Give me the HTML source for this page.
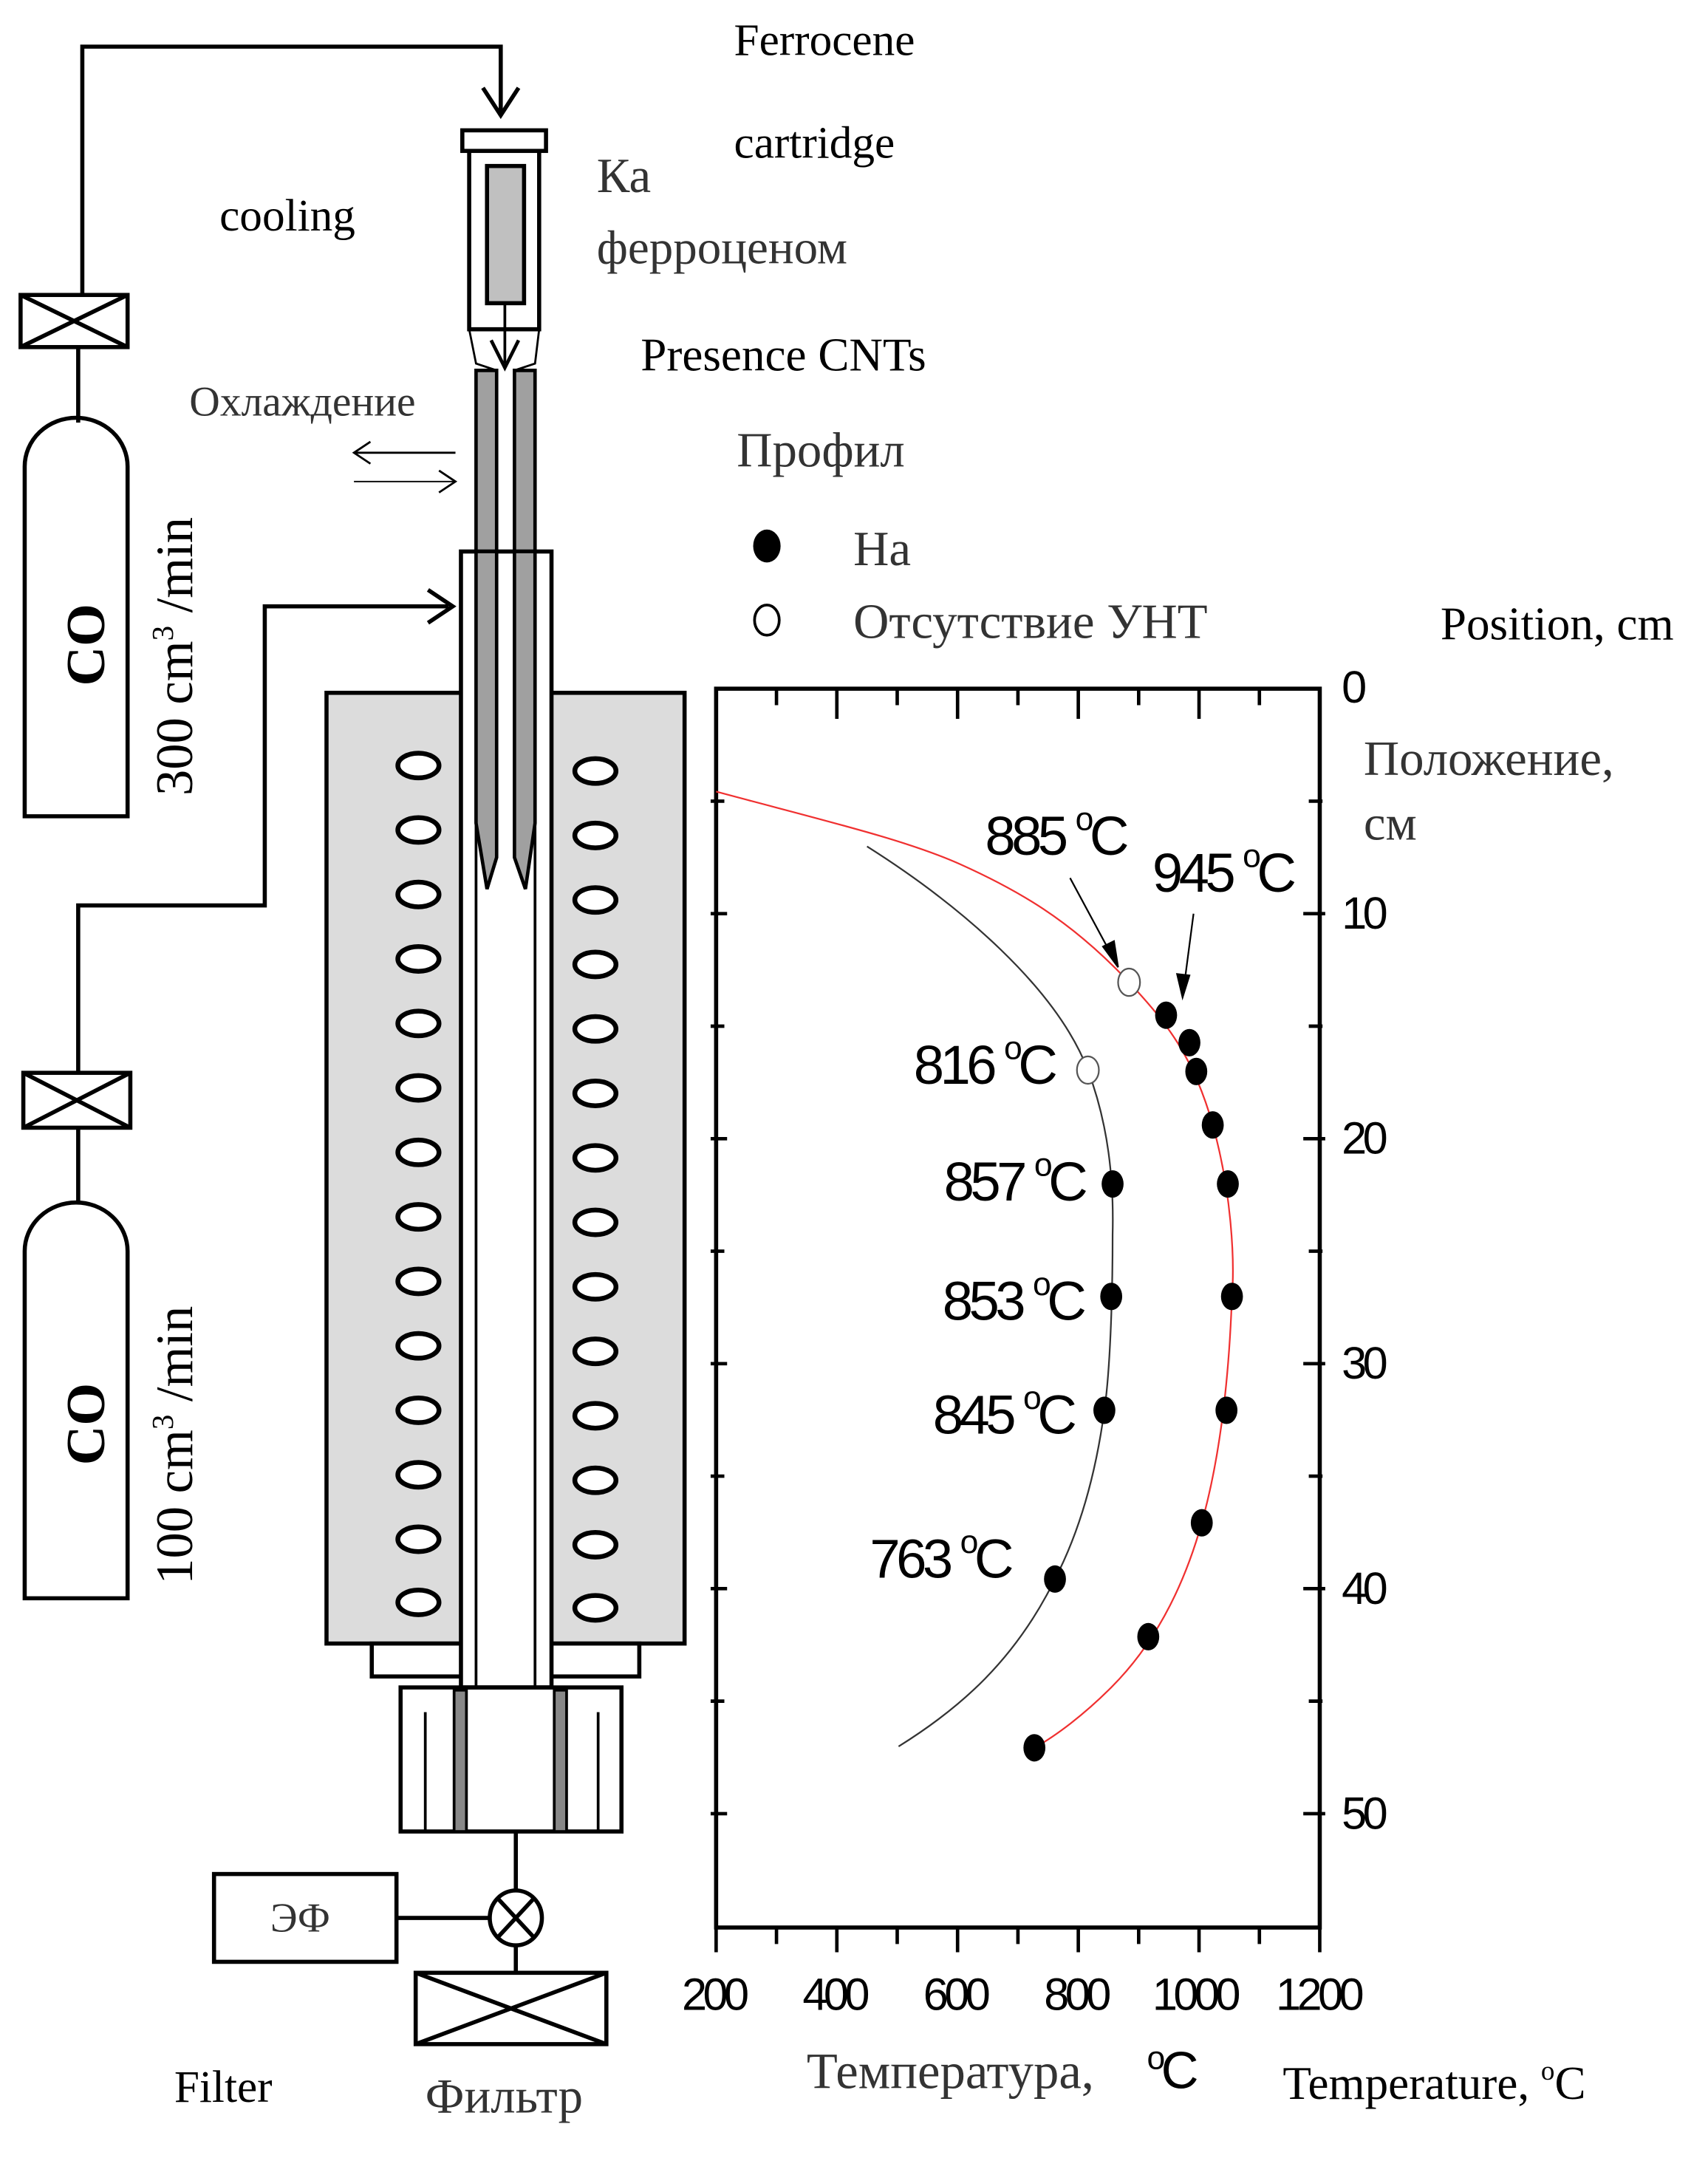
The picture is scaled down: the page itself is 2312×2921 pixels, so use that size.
<!DOCTYPE html>
<html><head><meta charset="utf-8"><style>
html,body{margin:0;padding:0;background:#fff}
svg{display:block}
text{font-family:"Liberation Serif",serif}
.s{font-family:"Liberation Sans",sans-serif}
</style></head><body>
<svg width="2312" height="2921" viewBox="0 0 1245 1573" preserveAspectRatio="none" xmlns="http://www.w3.org/2000/svg">
<rect width="1245" height="1573" fill="#fff"/>
<g stroke="#000" fill="none" stroke-width="3">
<polyline points="60,215 60,34 365,34 365,82"/>
<polyline points="352,64 365,84 378,64" stroke-width="3"/>
<rect x="15" y="215" width="78" height="38"/>
<line x1="15" y1="215" x2="93" y2="253"/><line x1="93" y1="215" x2="15" y2="253"/>
<line x1="57" y1="253" x2="57" y2="308"/>
<path d="M18,595 V340 A37,35 0 0 1 93,340 V595 Z"/>
<rect x="337" y="95" width="61" height="15"/>
<path d="M342,110 V240 H393 V110"/>
<rect x="355" y="121" width="27" height="100" fill="#c0c0c0"/>
<line x1="368" y1="221" x2="368" y2="265" stroke-width="2"/>
<polyline points="358,248 368,268 378,248" stroke-width="2.5"/>
<path d="M342,240 L347,265 L362,270 M393,240 L390,265 L375,270" stroke-width="1.5"/>
<path d="M347,270 H362 V625 L354,645 L347,600 Z" fill="#a0a0a0" stroke-width="2.5"/>
<path d="M375,270 H390 V600 L383,645 L375,625 Z" fill="#a0a0a0" stroke-width="2.5"/>
<line x1="258" y1="330" x2="332" y2="330" stroke-width="1.5"/>
<polyline points="270,322 258,330 270,338" stroke-width="1.5"/>
<line x1="258" y1="351" x2="332" y2="351" stroke-width="1"/>
<polyline points="320,343 332,351 320,359" stroke-width="1.5"/>
<rect x="238" y="505" width="261" height="693" fill="#dcdcdc"/>
<rect x="271" y="1198" width="195" height="24" fill="#fff"/>
<rect x="336" y="402" width="66" height="828" fill="#fff"/>
<line x1="347" y1="402" x2="347" y2="1230" stroke-width="2"/>
<line x1="390" y1="402" x2="390" y2="1230" stroke-width="2"/>
<path d="M347,402 V600 L355,648 L362,625 V402 Z M375,402 V625 L383,648 L390,600 V402 Z" fill="#a0a0a0" stroke-width="2.5"/>
<polyline points="327,442 193,442 193,660 57,660 57,782"/>
<polyline points="312,430 330,442 312,454"/>
<rect x="17" y="782" width="78" height="40"/>
<line x1="17" y1="782" x2="95" y2="822"/><line x1="95" y1="782" x2="17" y2="822"/>
<line x1="57" y1="822" x2="57" y2="878"/>
<path d="M18,1165 V912 A37,35 0 0 1 93,912 V1165 Z"/>
<rect x="292" y="1230" width="161" height="105"/>
<line x1="310" y1="1248" x2="310" y2="1335" stroke-width="2"/>
<line x1="436" y1="1248" x2="436" y2="1335" stroke-width="2"/>
<rect x="331" y="1232" width="9" height="103" fill="#888" stroke-width="2"/>
<rect x="404" y="1232" width="9" height="103" fill="#888" stroke-width="2"/>
<line x1="376" y1="1335" x2="376" y2="1379"/>
<ellipse cx="376" cy="1398" rx="19" ry="20"/>
<line x1="363" y1="1384" x2="389" y2="1412"/><line x1="389" y1="1384" x2="363" y2="1412"/>
<line x1="289" y1="1398" x2="357" y2="1398"/>
<rect x="156" y="1366" width="133" height="64"/>
<line x1="376" y1="1418" x2="376" y2="1438"/>
<rect x="303" y="1438" width="139" height="52"/>
<line x1="303" y1="1438" x2="442" y2="1490"/><line x1="442" y1="1438" x2="303" y2="1490"/>
</g>
<g stroke="#000" stroke-width="3.5" fill="#fff">
<ellipse cx="305" cy="558" rx="15" ry="9"/><ellipse cx="434" cy="562" rx="15" ry="9"/>
<ellipse cx="305" cy="605" rx="15" ry="9"/><ellipse cx="434" cy="609" rx="15" ry="9"/>
<ellipse cx="305" cy="652" rx="15" ry="9"/><ellipse cx="434" cy="656" rx="15" ry="9"/>
<ellipse cx="305" cy="699" rx="15" ry="9"/><ellipse cx="434" cy="703" rx="15" ry="9"/>
<ellipse cx="305" cy="746" rx="15" ry="9"/><ellipse cx="434" cy="750" rx="15" ry="9"/>
<ellipse cx="305" cy="793" rx="15" ry="9"/><ellipse cx="434" cy="797" rx="15" ry="9"/>
<ellipse cx="305" cy="840" rx="15" ry="9"/><ellipse cx="434" cy="844" rx="15" ry="9"/>
<ellipse cx="305" cy="887" rx="15" ry="9"/><ellipse cx="434" cy="891" rx="15" ry="9"/>
<ellipse cx="305" cy="934" rx="15" ry="9"/><ellipse cx="434" cy="938" rx="15" ry="9"/>
<ellipse cx="305" cy="981" rx="15" ry="9"/><ellipse cx="434" cy="985" rx="15" ry="9"/>
<ellipse cx="305" cy="1028" rx="15" ry="9"/><ellipse cx="434" cy="1032" rx="15" ry="9"/>
<ellipse cx="305" cy="1075" rx="15" ry="9"/><ellipse cx="434" cy="1079" rx="15" ry="9"/>
<ellipse cx="305" cy="1122" rx="15" ry="9"/><ellipse cx="434" cy="1126" rx="15" ry="9"/>
<ellipse cx="305" cy="1168" rx="15" ry="9"/><ellipse cx="434" cy="1172" rx="15" ry="9"/>
</g>
<g stroke="#000" fill="none" stroke-width="3">
<rect x="522" y="502" width="440" height="903"/>
<g stroke-width="2.5">
<path d="M566,502v12M610,502v22M654,502v12M698,502v22M742,502v12M786,502v22M830,502v12M874,502v22M918,502v12"/>
<path d="M522,1405v18M566,1405v12M610,1405v18M654,1405v12M698,1405v18M742,1405v12M786,1405v18M830,1405v12M874,1405v18M918,1405v12M962,1405v18"/>
<path d="M518,584h10M518,666h12M518,748h10M518,830h12M518,912h10M518,994h12M518,1076h10M518,1158h12M518,1240h10M518,1322h12"/>
<path d="M954,584h10M950,666h16M954,748h10M950,830h16M954,912h10M950,994h16M954,1076h10M950,1158h16M954,1240h10M950,1322h16"/>
</g>
</g>
<path fill="none" stroke="#f03030" stroke-width="1.2" d="M522,577 C600,598 660,612 700,630 C740,648 780,670 823,716 C850,745 870,770 884,820 C898,870 900,920 898,945 C896,1000 890,1060 876,1110 C862,1160 840,1200 810,1230 C790,1250 770,1265 754,1274"/>
<path fill="none" stroke="#333" stroke-width="1.2" d="M632,617 C700,660 770,720 793,780 C808,820 812,860 811,900 C811,950 809,1000 805,1028 C798,1080 785,1120 769,1151 C740,1210 700,1245 655,1273"/>
<g fill="#000">
<ellipse cx="850" cy="740" rx="8" ry="10"/><ellipse cx="867" cy="760" rx="8" ry="10"/>
<ellipse cx="872" cy="781" rx="8" ry="10"/><ellipse cx="884" cy="820" rx="8" ry="10"/>
<ellipse cx="895" cy="863" rx="8" ry="10"/><ellipse cx="898" cy="945" rx="8" ry="10"/>
<ellipse cx="894" cy="1028" rx="8" ry="10"/><ellipse cx="876" cy="1110" rx="8" ry="10"/>
<ellipse cx="837" cy="1193" rx="8" ry="10"/><ellipse cx="754" cy="1274" rx="8" ry="10"/>
<ellipse cx="811" cy="863" rx="8" ry="10"/><ellipse cx="810" cy="945" rx="8" ry="10"/>
<ellipse cx="805" cy="1028" rx="8" ry="10"/><ellipse cx="769" cy="1151" rx="8" ry="10"/>
</g>
<g fill="#fff" stroke="#555" stroke-width="1.2">
<ellipse cx="823" cy="716" rx="8" ry="10"/><ellipse cx="793" cy="780" rx="8" ry="10"/>
</g>
<g stroke="#000" stroke-width="1.2">
<line x1="780" y1="640" x2="815" y2="705"/><polygon points="815,705 804,690 812,686" fill="#000"/>
<line x1="870" y1="666" x2="862" y2="727"/><polygon points="862,727 858,710 867,711" fill="#000"/>
</g>
<g class="s" font-size="40" fill="#000" letter-spacing="-3">
<text x="718" y="623" class="s">885 <tspan font-size="24" dy="-18">o</tspan><tspan dy="18">C</tspan></text>
<text x="840" y="650" class="s">945 <tspan font-size="24" dy="-18">o</tspan><tspan dy="18">C</tspan></text>
<text x="666" y="790" class="s">816 <tspan font-size="24" dy="-18">o</tspan><tspan dy="18">C</tspan></text>
<text x="688" y="875" class="s">857 <tspan font-size="24" dy="-18">o</tspan><tspan dy="18">C</tspan></text>
<text x="687" y="962" class="s">853 <tspan font-size="24" dy="-18">o</tspan><tspan dy="18">C</tspan></text>
<text x="680" y="1045" class="s">845 <tspan font-size="24" dy="-18">o</tspan><tspan dy="18">C</tspan></text>
<text x="634" y="1150" class="s">763 <tspan font-size="24" dy="-18">o</tspan><tspan dy="18">C</tspan></text>
<text x="497" y="1465" class="s" font-size="33">200</text>
<text x="585" y="1465" class="s" font-size="33">400</text>
<text x="673" y="1465" class="s" font-size="33">600</text>
<text x="761" y="1465" class="s" font-size="33">800</text>
<text x="840" y="1465" class="s" font-size="33">1000</text>
<text x="930" y="1465" class="s" font-size="33">1200</text>
<text x="978" y="512" class="s" font-size="33">0</text>
<text x="978" y="677" class="s" font-size="33">10</text>
<text x="978" y="841" class="s" font-size="33">20</text>
<text x="978" y="1005" class="s" font-size="33">30</text>
<text x="978" y="1169" class="s" font-size="33">40</text>
<text x="978" y="1333" class="s" font-size="33">50</text>
<text x="836" y="1522" class="s" font-size="38"><tspan font-size="24" dy="-14">o</tspan><tspan dy="14">C</tspan></text>
</g>
<g font-size="33" fill="#000">
<text x="535" y="40">Ferrocene</text>
<text x="535" y="115">cartridge</text>
<text x="160" y="168">cooling</text>
<text x="435" y="140" fill="#333" font-size="36">Ка</text>
<text x="435" y="192" fill="#333" font-size="35">ферроценом</text>
<text x="467" y="270" font-size="34">Presence CNTs</text>
<text x="138" y="303" fill="#333" font-size="31">Охлаждение</text>
<text x="537" y="340" fill="#333" font-size="36">Профил</text>
<ellipse cx="559" cy="398" rx="10" ry="12" fill="#000"/>
<ellipse cx="559" cy="452" rx="9" ry="11" fill="none" stroke="#000" stroke-width="2"/>
<text x="622" y="412" fill="#333" font-size="36">На</text>
<text x="622" y="465" fill="#333" font-size="36">Отсутствие УНТ</text>
<text x="1050" y="466" font-size="34">Position, cm</text>
<text x="994" y="565" fill="#333" font-size="36">Положение,</text>
<text x="994" y="612" fill="#333" font-size="36">см</text>
<text x="588" y="1522" fill="#333" font-size="37">Температура,</text>
<text x="935" y="1530" font-size="34">Temperature, <tspan font-size="20" dy="-14">o</tspan><tspan dy="14">C</tspan></text>
<text x="127" y="1532">Filter</text>
<text x="310" y="1540" fill="#333" font-size="36">Фильтр</text>
<text x="197" y="1408" fill="#333" font-size="30">ЭФ</text>
<text transform="translate(76,500) rotate(-90)" font-size="40" font-weight="bold">CO</text>
<text transform="translate(140,580) rotate(-90)" font-size="38">300 cm<tspan font-size="22" dy="-14">3</tspan><tspan dy="14"> /min</tspan></text>
<text transform="translate(76,1068) rotate(-90)" font-size="40" font-weight="bold">CO</text>
<text transform="translate(140,1155) rotate(-90)" font-size="38">100 cm<tspan font-size="22" dy="-14">3</tspan><tspan dy="14"> /min</tspan></text>
</g>
</svg>
</body></html>
